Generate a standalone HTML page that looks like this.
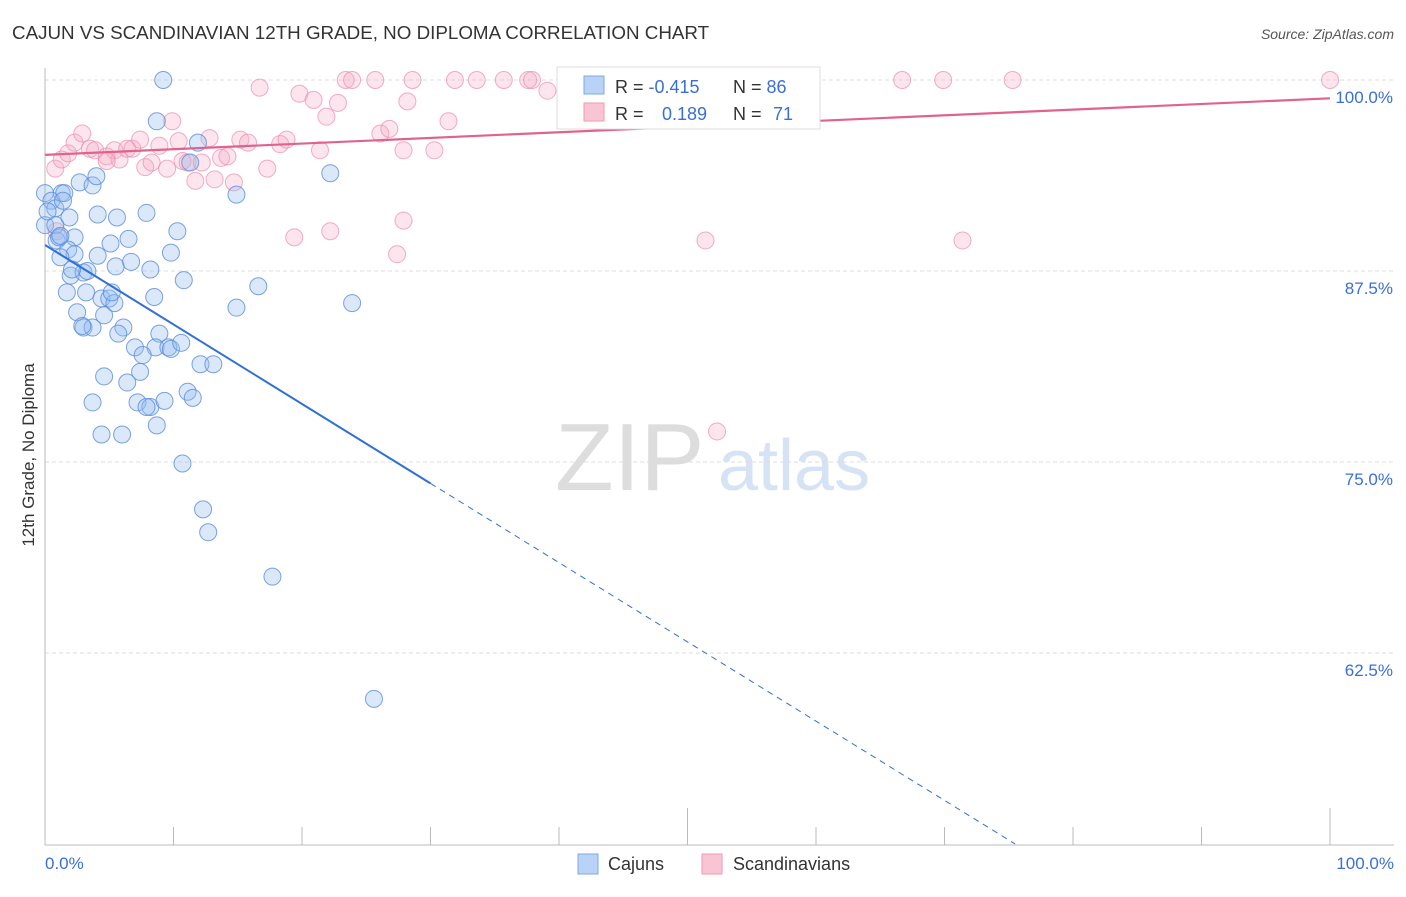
<!DOCTYPE html>
<html><head><meta charset="utf-8"><style>
body{margin:0;background:#fff;font-family:"Liberation Sans",sans-serif;}
svg text{font-family:"Liberation Sans",sans-serif;}
</style></head><body>
<svg width="1406" height="892">
<text x="12" y="39" font-size="18.8" fill="#333">CAJUN VS SCANDINAVIAN 12TH GRADE, NO DIPLOMA CORRELATION CHART</text>
<text x="1394" y="39" font-size="14" fill="#555" font-style="italic" text-anchor="end">Source: ZipAtlas.com</text>
<text x="555" y="490" font-size="96" fill="#ddd" font-family="Liberation Serif">ZIP</text>
<text x="718" y="490" font-size="72" fill="#d5e3f5">atlas</text>
<g id="grid"></g><g id="axes"></g><g id="pts"></g><g id="lines"></g>
<text transform="translate(34,455) rotate(-90)" font-size="17" fill="#333" text-anchor="middle">12th Grade, No Diploma</text>
<text x="45" y="869" font-size="17" fill="#3a6fd8">0.0%</text>
<text x="1394" y="869" font-size="17" fill="#3a6fd8" text-anchor="end">100.0%</text>
<g>
<rect x="557" y="67" width="263" height="62" fill="#fff" stroke="#ddd"/>
<rect x="584" y="76" width="20" height="18" fill="#b8d3f5" stroke="#7fa9e6"/>
<rect x="584" y="103" width="20" height="18" fill="#f9c5d5" stroke="#ee9ab3"/>
<text x="615" y="93" font-size="18" fill="#333">R = <tspan fill="#3a6fd8">-0.415</tspan><tspan x="733">N = </tspan><tspan fill="#3a6fd8">86</tspan></text>
<text x="615" y="120" font-size="18" fill="#333">R = <tspan x="662" fill="#3a6fd8">0.189</tspan><tspan x="733">N = </tspan><tspan x="773" fill="#3a6fd8">71</tspan></text>
</g>
<g>
<rect x="578" y="854" width="20" height="20" fill="#b8d3f5" stroke="#7fa9e6"/>
<text x="608" y="870" font-size="18" fill="#333">Cajuns</text>
<rect x="702" y="854" width="20" height="20" fill="#f9c5d5" stroke="#ee9ab3"/>
<text x="733" y="870" font-size="18" fill="#333">Scandinavians</text>
</g>
</svg>
<script>
const yTicks=[100,87.5,75,62.5];
const yTickLabels=["100.0%","87.5%","75.0%","62.5%"];
const xTicks=[0,10,20,30,40,50,60,70,80,90,100];
const cajunX=[9.2,0,1.3,0.5,1.5,0.8,1.4,1.9,0,0.8,0.9,1.1,2.3,2.7,3.7,4.0,4.1,5.6,7.9,8.7,11.9,11.3,14.9,22.2,1.8,2.3,1.2,4.1,5.1,6.5,5.5,6.7,8.2,9.8,10.3,2.0,3.0,3.3,1.7,3.2,4.4,5.0,5.4,5.2,8.5,10.8,16.6,14.9,23.9,2.5,4.6,3.0,3.7,6.1,5.7,8.9,7.0,8.6,9.6,9.8,10.6,7.6,12.1,13.1,4.6,6.4,7.4,3.7,7.2,8.2,7.9,9.3,11.1,11.5,8.7,4.4,6.0,10.7,12.3,12.7,17.7,25.6,2.9,1.2,0.2,2.1];
const cajunY=[100,92.6,92.6,92.1,92.6,91.6,92.1,91.0,90.5,90.5,89.5,89.7,89.7,93.3,93.1,93.7,91.2,91.0,91.3,97.3,95.9,94.6,92.5,93.9,88.9,88.6,88.4,88.5,89.3,89.6,87.8,88.1,87.6,88.7,90.1,87.2,87.4,87.5,86.1,86.1,85.7,85.7,85.4,86.1,85.8,86.9,86.5,85.1,85.4,84.8,84.6,83.8,83.8,83.8,83.4,83.4,82.5,82.5,82.5,82.4,82.8,82.0,81.4,81.4,80.6,80.2,80.9,78.9,78.9,78.6,78.6,79.0,79.6,79.2,77.4,76.8,76.8,74.9,71.9,70.4,67.5,59.5,83.9,89.8,91.4,87.6];
const scanX=[0.8,1.3,1.8,2.3,2.9,3.5,3.9,4.8,5.4,5.8,6.4,6.8,7.4,7.8,8.3,8.9,9.5,9.9,10.4,10.7,11.1,11.7,12.2,12.8,13.2,13.7,14.2,14.7,15.2,15.8,16.7,17.3,18.3,18.8,19.8,20.9,21.4,21.9,22.8,23.4,23.9,25.7,26.1,26.8,27.9,28.2,28.6,30.3,31.4,31.9,33.6,35.7,37.6,37.9,39.1,47.5,47.9,51.2,66.7,69.9,75.3,100,19.4,22.2,27.4,27.9,51.4,71.4,52.3,0.9,4.8];
const scanY=[94.2,94.8,95.2,95.9,96.5,95.5,95.4,95.0,95.4,94.8,95.5,95.5,96.1,94.3,94.6,95.7,94.2,97.3,96.0,94.7,94.6,93.4,94.6,96.2,93.5,94.9,95.0,93.3,96.1,95.9,99.5,94.2,95.8,96.1,99.1,98.7,95.4,97.6,98.5,100,100,100,96.5,96.8,95.4,98.6,100,95.4,97.3,100,100,100,100,100,99.3,100,100,100,100,100,100,100,89.7,90.1,88.6,90.8,89.5,89.5,77.0,90.1,94.7];
const cajunTrend=[[0,89.2],[30,73.6],[75.5,50]];
const scanTrend=[[0,95.1],[100,98.8]];
const X=v=>45+v*12.85;
const Y=v=>80+(100-v)*15.28;
const NS="http://www.w3.org/2000/svg";
function mk(tag,attrs,parent){const e=document.createElementNS(NS,tag);for(const k in attrs)e.setAttribute(k,attrs[k]);document.getElementById(parent).appendChild(e);return e;}
yTicks.forEach((t,i)=>{
 const l=mk('line',{x1:45,x2:1394,y1:Y(t),y2:Y(t),stroke:'#ddd','stroke-dasharray':'4,3'},'grid');
 
 
 const tx=mk('text',{x:1393,y:Y(t)+23,'font-size':17,fill:'#3a6fd8','text-anchor':'end'},'grid');
 tx.textContent=yTickLabels[i];
 
 
});
const xa=mk('line',{x1:45,x2:1394,y1:845,y2:845,stroke:'#bbb'},'axes');


const ya=mk('line',{x1:45,x2:45,y1:68,y2:845,stroke:'#bbb'},'axes');


xTicks.forEach(t=>{
 const l=mk('line',{x1:X(t),x2:X(t),y1:(t===50||t===100)?808:827,y2:845,stroke:'#bbb'},'axes');
 
 
});
scanX.forEach((x,i)=>{
 const c=mk('circle',{cx:X(x),cy:Y(scanY[i]),r:8.5,fill:'rgba(246,170,195,0.3)',stroke:'rgba(236,140,170,0.7)','stroke-width':1},'pts');
 
 
});
cajunX.forEach((x,i)=>{
 const c=mk('circle',{cx:X(x),cy:Y(cajunY[i]),r:8.5,fill:'rgba(150,190,240,0.35)',stroke:'rgba(90,140,220,0.8)','stroke-width':1},'pts');
 
 
});
const b1=mk('line',{x1:X(cajunTrend[0][0]),y1:Y(cajunTrend[0][1]),x2:X(cajunTrend[1][0]),y2:Y(cajunTrend[1][1]),stroke:'#2f6fd6','stroke-width':2},'lines');


const b2=mk('line',{x1:X(cajunTrend[1][0]),y1:Y(cajunTrend[1][1]),x2:X(cajunTrend[2][0]),y2:Y(cajunTrend[2][1]),stroke:'#2f6fd6','stroke-width':1,'stroke-dasharray':'6,5'},'lines');


const p1=mk('line',{x1:X(scanTrend[0][0]),y1:Y(scanTrend[0][1]),x2:X(scanTrend[1][0]),y2:Y(scanTrend[1][1]),stroke:'#e0638e','stroke-width':2.2},'lines');


</script>
</body></html>
